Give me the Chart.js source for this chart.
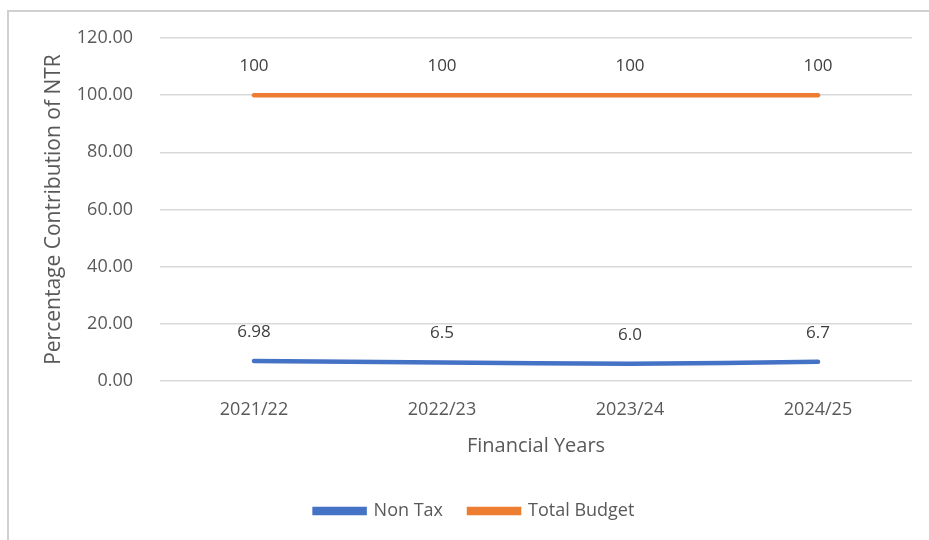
<!DOCTYPE html>
<html>
<head>
<meta charset="utf-8">
<script src="https://cdn.jsdelivr.net/npm/chart.js@4/dist/chart.umd.min.js"></script>
<style>
  html, body { margin: 0; padding: 0; background: #fff; }
  #wrap { position: relative; width: 929px; height: 540px; overflow: hidden; }
  #frame {
    position: absolute; left: 7px; top: 10px; width: 940px; height: 560px;
    border-top: 2px solid #d0d0d0; border-left: 2px solid #d0d0d0;
  }
  #chartCanvas { position: absolute; left: 0; top: 0; }
</style>
</head>
<body>
<div id="wrap">
  <div id="frame"></div>
  <canvas id="chartCanvas" width="929" height="540"></canvas>
</div>
<script>
// values
const years = ['2021/22', '2022/23', '2023/24', '2024/25'];
const nonTax = [6.98, 6.5, 6.0, 6.7];
const nonTaxLabels = ['6.98', '6.5', '6.0', '6.7'];
const totalBudget = [100, 100, 100, 100];
const totalBudgetLabels = ['100', '100', '100', '100'];
const yTicks = [0, 20, 40, 60, 80, 100, 120];

const FONT = "'Open Sans', 'Noto Sans', sans-serif";
const TEXT = '#595959';

/**
 * Writes each point's value just above it, like Excel data labels.
 */
const valueLabels = {
    id: 'valueLabels',
    afterDatasetsDraw(chart) {
        const ctx = chart.ctx;
        ctx.save();
        ctx.font = '17px ' + FONT;
        ctx.fillStyle = '#404040';
        ctx.textAlign = 'center';
        ctx.textBaseline = 'middle';
        chart.data.datasets.forEach((ds, i) => {
            chart.getDatasetMeta(i).data.forEach((pt, j) => {
                ctx.fillText(ds.valueText[j], pt.x, pt.y - 29);
            });
        });
        ctx.restore();
    }
};

const ctx = document.getElementById('chartCanvas').getContext('2d');

new Chart(ctx, {
    type: 'line',
    data: {
        labels: years,
        datasets: [
            {
                label: 'Non Tax', data: nonTax, valueText: nonTaxLabels,
                borderColor: '#4472C4', backgroundColor: '#4472C4',
                borderWidth: 4.5, borderCapStyle: 'round', tension: 0.3,
                pointRadius: 0
            },
            {
                label: 'Total Budget', data: totalBudget, valueText: totalBudgetLabels,
                borderColor: '#ED7D31', backgroundColor: '#ED7D31',
                borderWidth: 4.5, borderCapStyle: 'round', tension: 0.3,
                pointRadius: 0
            }
        ]
    },
    options: {
        responsive: false,
        animation: false,
        layout: { padding: { top: 38, right: 17, left: 37, bottom: 10 } },
        plugins: {
            legend: {
                position: 'bottom',
                labels: {
                    font: { family: FONT, size: 18 },
                    color: TEXT,
                    boxWidth: 50,
                    boxHeight: 4,
                    padding: 26
                }
            },
            tooltip: { enabled: false }
        },
        scales: {
            x: {
                offset: true,
                grid: { display: false },
                border: { display: false },
                ticks: { font: { family: FONT, size: 18 }, color: TEXT, padding: 10 },
                title: {
                    display: true, text: 'Financial Years',
                    font: { family: FONT, size: 20 }, color: TEXT,
                    padding: { top: 8, bottom: 18 }
                },
                afterFit: scale => { scale.height = 95; }
            },
            y: {
                min: 0, max: 120,
                afterBuildTicks: scale => { scale.ticks = yTicks.map(v => ({ value: v })); },
                grid: { color: '#d9d9d9', lineWidth: 1.5, drawTicks: false },
                border: { display: false },
                ticks: {
                    font: { family: FONT, size: 18 }, color: TEXT, padding: 27,
                    callback: v => v.toFixed(2)
                },
                title: {
                    display: true, text: 'Percentage Contribution of NTR',
                    font: { family: FONT, size: 21 }, color: TEXT,
                    padding: { bottom: 0 }
                },
                afterFit: scale => { scale.width = 123; }
            }
        }
    },
    plugins: [valueLabels]
});
</script>
</body>
</html>
